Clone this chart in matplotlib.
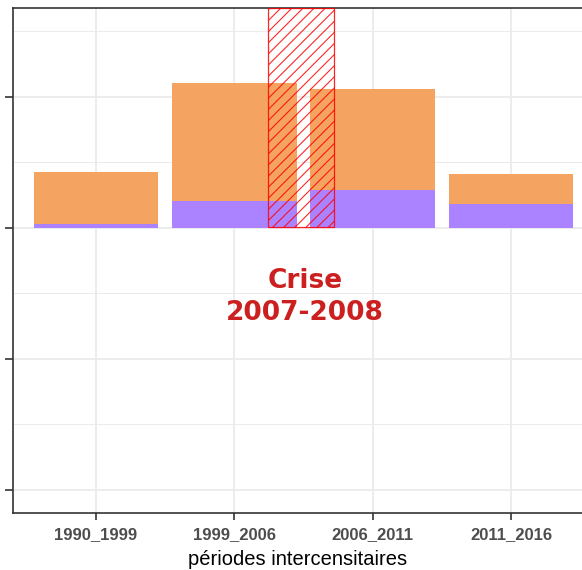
import numpy as np
import matplotlib
matplotlib.use("Agg")
import matplotlib.pyplot as plt
from matplotlib.patches import Rectangle

periodes = ["1990_1999", "1999_2006", "2006_2011", "2011_2016"]
part_violet = [0.03, 0.205, 0.29, 0.18]
part_orange = [0.40, 0.90, 0.77, 0.235]

crise_debut = 2.244
crise_fin = 2.721

plt.rcParams['hatch.linewidth'] = 0.8

fig = plt.figure(figsize=(5.82, 5.70), dpi=100)
ax = fig.add_axes([13/582, 57/570, 1 - 13/582, (513-8)/570])

x = np.arange(1, len(periodes) + 1)
ax.bar(x, part_violet, width=0.9, color="#AB82FF", zorder=2)
ax.bar(x, part_orange, width=0.9, bottom=part_violet, color="#F4A460", zorder=2)

ax.set_xlim(0.4, 4.513)
ax.set_ylim(-2.176, 1.679)

# zone de crise hachuree
ax.add_patch(Rectangle((crise_debut, 0.01), crise_fin - crise_debut, 1.679 - 0.01,
                       facecolor="none", edgecolor="red", hatch="///", lw=0.9,
                       alpha=0.85, zorder=3))
ax.text(2.51, -0.53, "Crise\n2007-2008", color="#CC2020", fontsize=19,
        fontweight="bold", ha="center", va="center", linespacing=1.3,
        family="DejaVu Sans", zorder=4)

# grille facon ggplot
ax.set_yticks([1, 0, -1, -2])
ax.set_yticks([1.5, 0.5, -0.5, -1.5], minor=True)
ax.set_xticks(x)
ax.set_xticklabels(periodes, fontsize=12, fontweight="bold", color="#4D4D4D",
                   family="Liberation Sans")
ax.set_yticklabels([])
ax.grid(which="major", color="#EBEBEB", lw=1.3, zorder=0)
ax.grid(which="minor", axis="y", color="#EBEBEB", lw=0.7, zorder=0)
ax.set_axisbelow(True)
ax.tick_params(axis="y", which="major", length=6, width=1.2, color="#333333")
ax.tick_params(axis="y", which="minor", length=0)
ax.tick_params(axis="x", length=5, width=1.2, color="#333333", pad=5)

for s in ["left", "top", "bottom"]:
    ax.spines[s].set_color("#333333")
    ax.spines[s].set_linewidth(1.2)
ax.spines["right"].set_visible(False)

ax.set_xlabel("périodes intercensitaires", fontsize=14.5, family="Liberation Sans",
              labelpad=6)

fig.savefig("out.png", dpi=100)
